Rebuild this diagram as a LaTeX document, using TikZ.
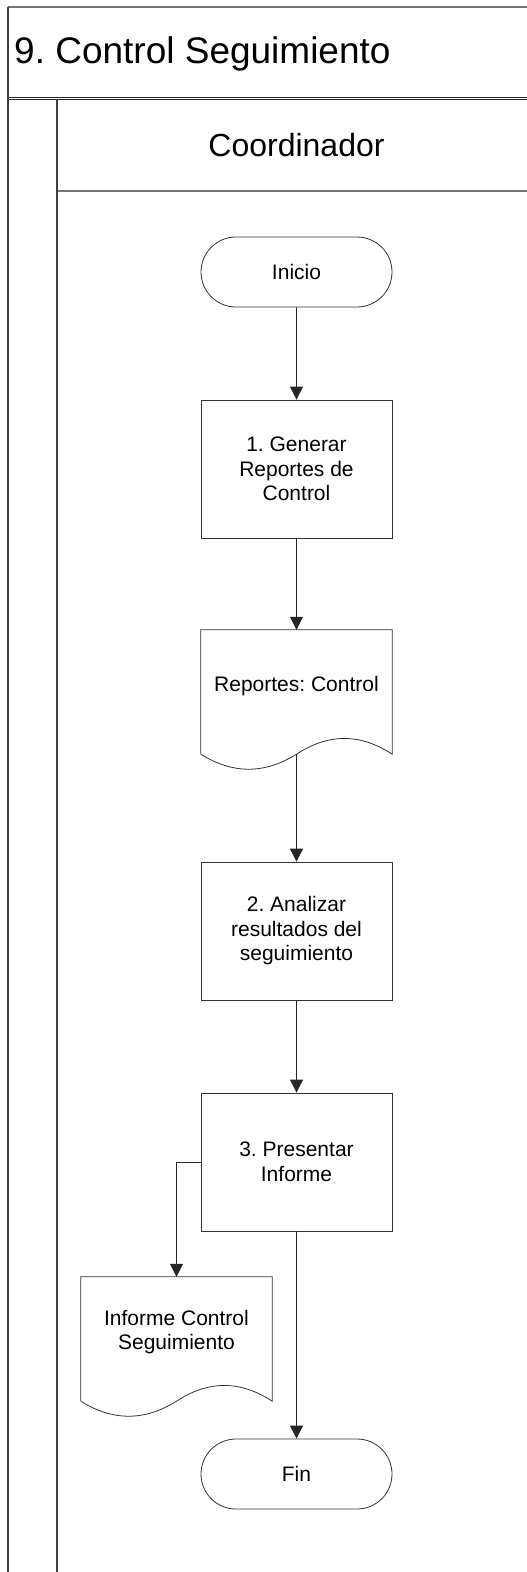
\documentclass[tikz,border=0pt]{standalone}
\usepackage{fontspec}
\setmainfont{Liberation Sans}
\usetikzlibrary{arrows.meta,shapes.misc}
\frenchspacing
\begin{document}
\frenchspacing
\begin{tikzpicture}[x=1pt,y=-1pt,
  frame/.style={line width=1.3pt,draw=black!75},
  hline/.style={line width=1.3pt,draw=black!55},
  shapeline/.style={line width=0.8pt,draw=black!80},
  boxfont/.style={font=\fontsize{21}{24.5}\selectfont\frenchspacing},
  procbox/.style={shapeline,rectangle,minimum width=191,minimum height=138,inner sep=0,align=center,boxfont},
  termbox/.style={shapeline,rounded rectangle,minimum width=191,minimum height=70,inner sep=0,boxfont},
  docbox/.style={rectangle,minimum width=191,minimum height=124,inner sep=0},
  doctext/.style={inner sep=0,align=center,boxfont},
  arr/.style={line width=0.8pt,draw=black!85,-{Triangle[length=13pt,width=13pt]}},
  conn/.style={line width=0.8pt,draw=black!85}
]
\useasboundingbox (0,0) rectangle (527,1572);
\fill[white] (0,0) rectangle (527,1572);

% frame and lane
\draw[hline] (8,7) -- (527,7);
\draw[line width=0.9pt,black!85] (8,97) -- (527,97);
\draw[line width=0.9pt,black!85] (8,99.6) -- (527,99.6);
\draw[hline] (57,191) -- (527,191);
\draw[frame] (8,7) -- (8,1572);
\draw[frame] (57,99) -- (57,1572);

\node[anchor=base west,inner sep=0,font=\fontsize{37}{44}\selectfont\frenchspacing] (title) at (14,63) {9. Control Seguimiento};
\node[anchor=base,inner sep=0,font=\fontsize{32}{38}\selectfont] (lane) at (296.5,156.5) {Coordinador};

% nodes
\node[termbox] (ini) at (296.5,272) {Inicio};
\node[procbox] (b1) at (296.5,469) {1. Generar\\Reportes de\\Control};
\node[docbox] (d1) at (296.5,692) {};
\node[doctext] (d1t) at (296.5,686) {Reportes: Control};
\node[procbox] (b2) at (296.5,931) {2. Analizar\\resultados del\\seguimiento};
\node[procbox] (b3) at (296.5,1162) {3. Presentar\\Informe};
\node[docbox] (d2) at (176.5,1339) {};
\node[doctext] (d2t) at (176.5,1332) {Informe Control\\Seguimiento};
\node[termbox] (fin) at (296.5,1474) {Fin};

% document outlines
\draw[shapeline] (d1.south west) -- (d1.north west) -- (d1.north east) -- (d1.south east)
  .. controls +(-32,-21) and +(32,-21) .. (d1.south)
  .. controls +(-32,20) and +(32,20) .. (d1.south west);
\draw[shapeline] (d2.south west) -- (d2.north west) -- (d2.north east) -- (d2.south east)
  .. controls +(-32,-21) and +(32,-21) .. (d2.south)
  .. controls +(-32,20) and +(32,20) .. (d2.south west);

% connectors
\draw[arr] (ini) -- (b1);
\draw[arr] (b1) -- (d1.north);
\draw[arr] (d1.south) -- (b2);
\draw[arr] (b2) -- (b3);
\draw[arr] (b3.west) -| (d2.north);
\draw[arr] (b3) -- (fin);
\end{tikzpicture}
\end{document}
